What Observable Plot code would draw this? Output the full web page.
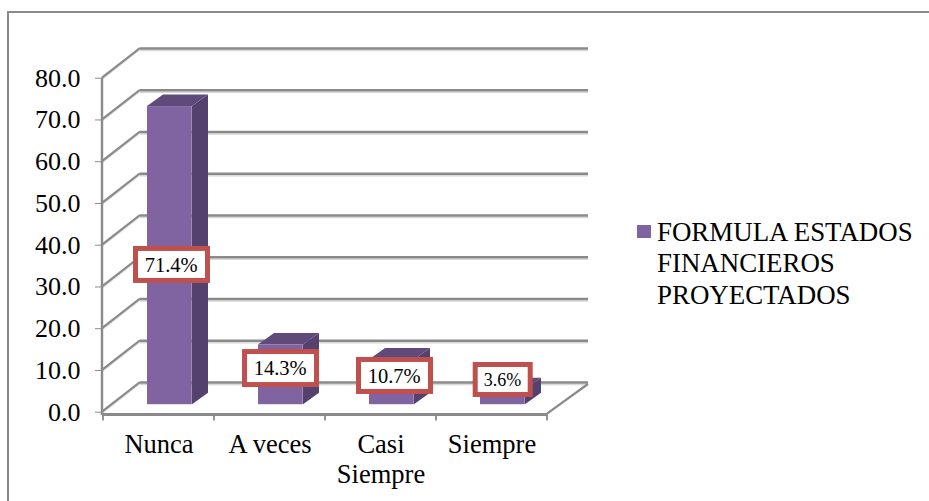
<!DOCTYPE html>
<html lang="es">
<head>
<meta charset="utf-8">
<script src="https://cdn.jsdelivr.net/npm/d3@7"></script>
<script src="https://cdn.jsdelivr.net/npm/@observablehq/plot@0.6"></script>
<style>
  html, body { margin: 0; background: #fff; }
  #chart { position: relative; width: 929px; height: 501px; overflow: hidden; font-family: "Liberation Serif", serif; }
  #chart svg { position: absolute; left: 0; top: 0; background: transparent; }
  #frame { position: absolute; left: 7px; top: 11px; width: 930px; height: 500px; border: 2px solid #8a8a8a; box-sizing: border-box; }
  #legend { position: absolute; left: 637px; top: 217px; width: 285px; color: #000; font-size: 26.9px; line-height: 31.4px; padding-left: 20px; box-sizing: border-box; }
  #legend i { position: absolute; left: 0; top: 8px; width: 14px; height: 13px; background: #8064a2; }
</style>
</head>
<body>
<div id="chart">
  <div id="frame"></div>
  <div id="legend"><i></i><span id="legend-label"></span></div>
</div>
<script>
const categories = ["Nunca", "A veces", "Casi Siempre", "Siempre"];
const percentages = [71.4, 14.3, 10.7, 3.6];
const valueLabels = ["71.4%", "14.3%", "10.7%", "3.6%"];
const yTicks = [0, 10, 20, 30, 40, 50, 60, 70, 80];
const seriesName = "FORMULA ESTADOS FINANCIEROS PROYECTADOS";

document.getElementById("legend-label").textContent = seriesName;

const rows = categories.map((category, i) => ({category, value: percentages[i], label: valueLabels[i]}));

// Oblique projection of the box: how far the back wall and each column's depth are shifted
const wall = {dx: 38, dy: -29.7};
const depth = {dx: 16, dy: -11.5};
const barInset = {left: 44, width: 45, lift: 7.5};
const lineGray = "#8a8a8a";
const shadowGray = "#d8d8d8";

// Callout boxes: nudges from the middle of each column, with the box size
const callouts = [
  {dx: 13, dy: 1.8, w: 72, h: 32, size: 20.5},
  {dx: 11, dy: -13.8, w: 72, h: 33, size: 20.5},
  {dx: 14, dy: -13.9, w: 72, h: 32, size: 20.5},
  {dx: 11.2, dy: -24.7, w: 55, h: 30, size: 18}
];

// Small helper for a function mark that appends SVG shapes in plot coordinates
function shapes(draw) {
  return (index, scales, values, dimensions) => {
    const g = d3.create("svg:g");
    draw(g, scales, dimensions);
    return g.node();
  };
}
const polygon = (g, points, fill) =>
  g.append("polygon").attr("points", points.map((p) => p.join(",")).join(" ")).attr("fill", fill);
const segment = (g, x1, y1, x2, y2, stroke, width) =>
  g.append("line").attr("x1", x1).attr("y1", y1).attr("x2", x2).attr("y2", y2)
    .attr("stroke", stroke).attr("stroke-width", width);

const sideWallLines = shapes((g, {y}, {marginLeft, width, marginRight}) => {
  const left = marginLeft;
  const right = width - marginRight;
  for (const t of yTicks) {
    segment(g, left, y(t) + 1.5, left + wall.dx, y(t) + wall.dy + 1.5, shadowGray, 1.5);
    segment(g, left, y(t), left + wall.dx, y(t) + wall.dy, lineGray, 2.2);
  }
  segment(g, right, y(0) + 2, right + wall.dx + 3, y(0) + wall.dy + 2, lineGray, 2.2);
});

const axisFrame = shapes((g, {x, y}, {marginLeft, width, marginRight}) => {
  const base = y(0) + 2.3;
  segment(g, marginLeft, y(80), marginLeft, base + 1, lineGray, 2.4);
  const edges = categories.map((c) => x(c)).concat(width - marginRight);
  for (const e of edges) segment(g, e, base, e, base + 6.5, lineGray, 1.8);
});

const columnFaces = shapes((g, {x, y}) => {
  for (const {category, value} of rows) {
    const x0 = x(category) + barInset.left;
    const x1 = x0 + barInset.width;
    const top = y(value) - barInset.lift;
    const bottom = y(0) - barInset.lift;
    polygon(g, [[x1, top], [x1 + depth.dx, top + depth.dy], [x1 + depth.dx, bottom + depth.dy], [x1, bottom]], "#54416e");
    polygon(g, [[x0, top], [x1, top], [x1 + depth.dx, top + depth.dy], [x0 + depth.dx, top + depth.dy]], "#604a7b");
  }
});

const calloutBoxes = shapes((g, {x, y}) => {
  rows.forEach(({category, value}, i) => {
    const c = callouts[i];
    const cx = x(category) + x.bandwidth() / 2 + c.dx;
    const cy = y(value / 2) + c.dy;
    g.append("rect").attr("x", cx - c.w / 2).attr("y", cy - c.h / 2)
      .attr("width", c.w).attr("height", c.h)
      .attr("fill", "#fff").attr("stroke", "#c0504d").attr("stroke-width", 5);
  });
});

const plot = Plot.plot({
  width: 929,
  height: 501,
  marginLeft: 102,
  marginRight: 382,
  marginTop: 77.7,
  marginBottom: 89.3,
  style: {fontFamily: "'Liberation Serif', serif", background: "transparent", overflow: "visible"},
  x: {domain: categories, padding: 0, label: null},
  y: {domain: [0, 80], label: null},
  marks: [
    // Back wall gridlines with their soft lower edge
    Plot.ruleY(yTicks, {stroke: shadowGray, strokeWidth: 1.5, dx: wall.dx, dy: wall.dy + 2, insetRight: -3}),
    Plot.ruleY(yTicks, {stroke: lineGray, strokeWidth: 2.6, dx: wall.dx, dy: wall.dy, insetRight: -3}),
    sideWallLines,
    // Floor edge along the front of the box
    Plot.ruleY([0], {stroke: lineGray, strokeWidth: 3, dy: 2.3}),
    axisFrame,
    Plot.axisY({
      ticks: yTicks,
      tickFormat: d3.format(".1f"),
      tickSize: 7,
      tickPadding: 15,
      stroke: lineGray,
      fill: "#000",
      fontSize: 26,
      label: null
    }),
    // Only the long category breaks onto two lines
    Plot.axisX({
      tickSize: 0,
      tickPadding: 19.5,
      tickFormat: (d) => (d === "Casi Siempre" ? "Casi\nSiempre" : d),
      fill: "#000",
      fontSize: 26.5,
      lineHeight: 1.14,
      label: null
    }),
    columnFaces,
    Plot.barY(rows, {
      x: "category",
      y: "value",
      fill: "#8064a2",
      insetLeft: barInset.left,
      insetRight: 111.25 - barInset.left - barInset.width,
      dy: -barInset.lift
    }),
    calloutBoxes,
    ...rows.map((row, i) =>
      Plot.text([row], {
        x: "category",
        y: (d) => d.value / 2,
        text: "label",
        dx: callouts[i].dx - 0.8,
        dy: callouts[i].dy,
        fontSize: callouts[i].size,
        fill: "#000"
      })
    )
  ]
});
document.getElementById("chart").prepend(plot);
</script>
</body>
</html>
